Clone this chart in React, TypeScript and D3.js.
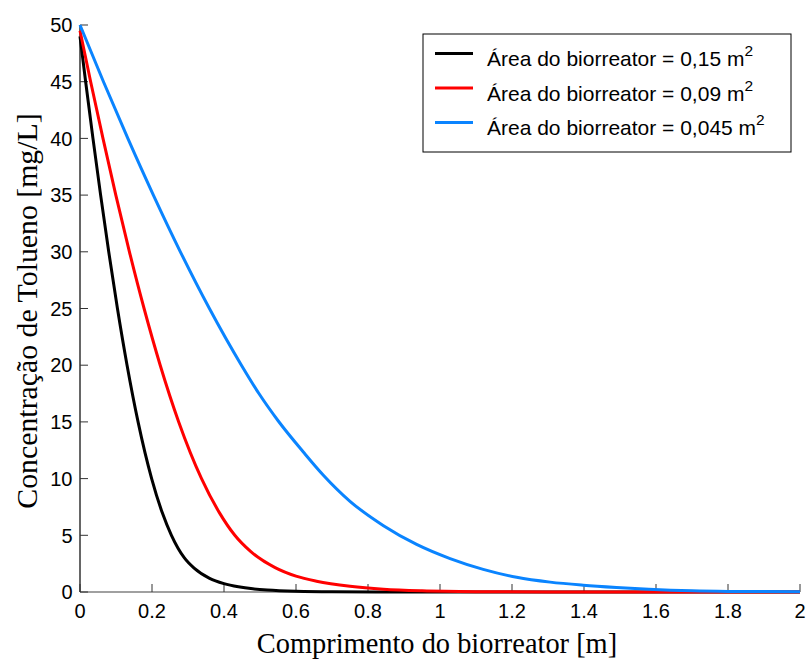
import React from "react";
import * as d3 from "d3";

const xTicks = [0, 0.2, 0.4, 0.6, 0.8, 1, 1.2, 1.4, 1.6, 1.8, 2];
const yTicks = [0, 5, 10, 15, 20, 25, 30, 35, 40, 45, 50];

const seriesNames = [
  "Área do biorreator = 0,15 m",
  "Área do biorreator = 0,09 m",
  "Área do biorreator = 0,045 m",
];
const seriesColors = ["#000000", "#ff0000", "#0a84ff"];

const blackX = [0, 0.0157, 0.036, 0.0573, 0.0798, 0.104, 0.1307, 0.1613, 0.199, 0.2284, 0.254, 0.29, 0.317, 0.36, 0.4, 0.44, 0.48, 0.52, 0.6, 0.7, 0.85, 1.0, 2.0];
const blackY = [49, 45, 40, 35, 30, 25, 20, 15, 10, 7, 5, 3, 2.1, 1.2, 0.74, 0.46, 0.28, 0.17, 0.06, 0.015, 0.004, 0, 0];

const redX = [0, 0.0296, 0.0638, 0.0995, 0.1373, 0.178, 0.2228, 0.2742, 0.3376, 0.3871, 0.43, 0.473, 0.542, 0.6, 0.657, 0.75, 0.843, 0.95, 1.1, 1.3, 1.7, 2.0];
const redY = [49.5, 45, 40, 35, 30, 25, 20, 15, 10, 7, 5, 3.6, 2.15, 1.4, 0.95, 0.5, 0.24, 0.1, 0.03, 0.008, 0, 0];

const blueX = [0, 0.0652, 0.1329, 0.2038, 0.2788, 0.3595, 0.4484, 0.497, 0.5503, 0.6216, 0.676, 0.75, 0.843, 0.935, 1.028, 1.12, 1.213, 1.306, 1.398, 1.49, 1.58, 1.7, 1.8, 2.0];
const blueY = [50, 45, 40, 35, 30, 25, 20, 17.5, 15.1, 12.3, 10.3, 8.0, 5.85, 4.2, 2.95, 2.0, 1.3, 0.87, 0.6, 0.4, 0.24, 0.1, 0.05, 0.02];

const seriesX = [blackX, redX, blueX];
const seriesY = [blackY, redY, blueY];

export default function App() {
  const W = 810;
  const H = 661;
  const left = 80;
  const right = 800;
  const top = 25;
  const bottom = 592;

  const x = d3.scaleLinear().domain([0, 2]).range([left, right]);
  const y = d3.scaleLinear().domain([0, 50]).range([bottom, top]);

  const line = d3
    .line<[number, number]>()
    .x((d) => x(d[0]))
    .y((d) => y(d[1]))
    .curve(d3.curveMonotoneX);

  const tickFont = "Liberation Sans, Arial, sans-serif";
  const titleFont = "Liberation Serif, Times New Roman, serif";

  const legX = 423;
  const legY = 34;
  const legW = 368;
  const legH = 118;
  const rowY = [53.5, 88, 122.5];

  return (
    <svg
      width={W}
      height={H}
      style={{ position: "absolute", left: 0, top: 0, background: "#fff" }}
    >
      <rect x={0} y={0} width={W} height={H} fill="#fff" />
      {/* axes */}
      <line x1={left} x2={right} y1={bottom} y2={bottom} stroke="#808080" strokeWidth={1.5} />
      <line x1={left} x2={left} y1={top} y2={bottom} stroke="#333" strokeWidth={1.5} />
      {xTicks.map((t) => (
        <g key={"xt" + t}>
          <line x1={x(t)} x2={x(t)} y1={bottom} y2={bottom - 8} stroke="#333" strokeWidth={1} />
          <text
            x={x(t)}
            y={618}
            textAnchor="middle"
            fontFamily={tickFont}
            fontSize={20}
            fill="#000"
          >
            {String(t)}
          </text>
        </g>
      ))}
      {yTicks.map((t) => (
        <g key={"yt" + t}>
          <line x1={left} x2={left + 8} y1={y(t)} y2={y(t)} stroke="#333" strokeWidth={1} />
          <text
            x={72.5}
            y={y(t)}
            dy="0.36em"
            textAnchor="end"
            fontFamily={tickFont}
            fontSize={20}
            fill="#000"
          >
            {String(t)}
          </text>
        </g>
      ))}
      {/* series */}
      {seriesX.map((xs, i) => {
        const pts: [number, number][] = xs.map((v, j) => [v, seriesY[i][j]]);
        return (
          <path
            key={"s" + i}
            d={line(pts) || ""}
            fill="none"
            stroke={seriesColors[i]}
            strokeWidth={3}
            strokeLinejoin="round"
          />
        );
      })}
      {/* titles */}
      <text
        x={437}
        y={653}
        textAnchor="middle"
        fontFamily={titleFont}
        fontSize={28.4}
        fill="#000"
      >
        Comprimento do biorreator [m]
      </text>
      <text
        transform={`translate(36.5, 311) rotate(-90)`}
        textAnchor="middle"
        fontFamily={titleFont}
        fontSize={29.8}
        fill="#000"
      >
        Concentração de Tolueno [mg/L]
      </text>
      {/* legend */}
      <rect x={legX} y={legY} width={legW} height={legH} fill="#fff" stroke="#000" strokeWidth={1} />
      {seriesNames.map((name, i) => (
        <g key={"lg" + i}>
          <line
            x1={435}
            x2={473}
            y1={rowY[i]}
            y2={rowY[i]}
            stroke={seriesColors[i]}
            strokeWidth={3}
          />
          <text x={487} y={rowY[i] + 12.5} fontFamily={tickFont} fontSize={21} fill="#000">
            {name}
            <tspan fontSize={15.5} dy={-10}>
              2
            </tspan>
          </text>
        </g>
      ))}
    </svg>
  );
}
